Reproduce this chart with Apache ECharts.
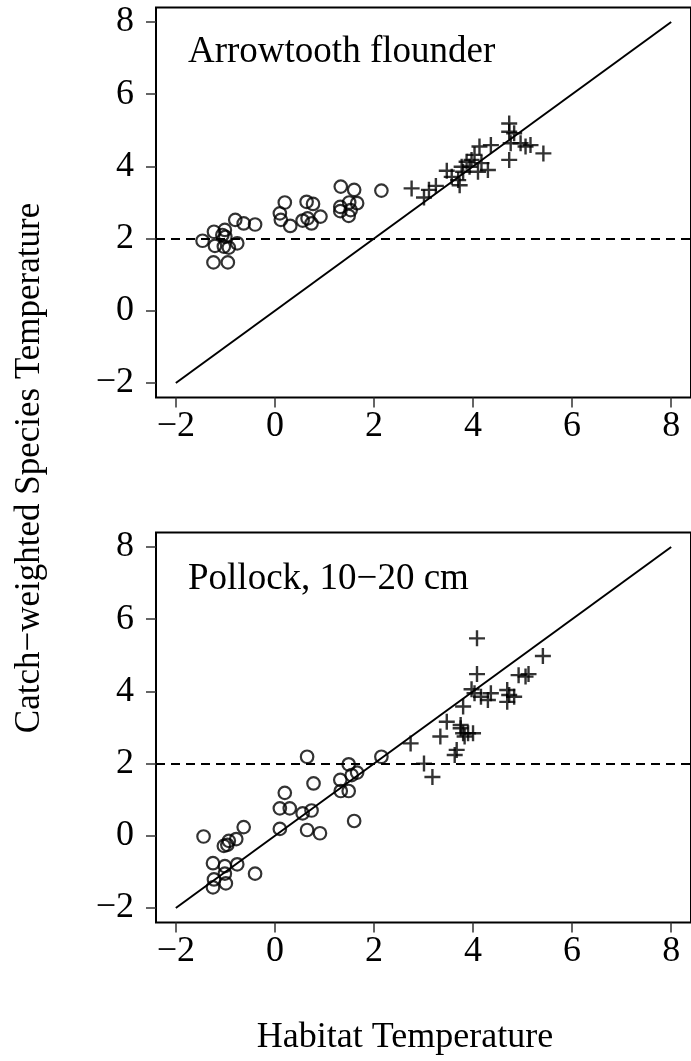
<!DOCTYPE html>
<html><head><meta charset="utf-8">
<script src="https://cdn.jsdelivr.net/npm/echarts@6/dist/echarts.min.js"></script>
<style>html,body{margin:0;padding:0;background:#fff;overflow:hidden}#c{width:691px;height:1061px}</style>
</head><body><div id="c"></div>
<script>
const xTicks = [-2, 0, 2, 4, 6, 8];
const yTicks = [-2, 0, 2, 4, 6, 8];
const panelTitles = ['Arrowtooth flounder', 'Pollock, 10\u221220 cm'];
const xTitle = 'Habitat Temperature';
const yTitle = 'Catch\u2212weighted Species Temperature';
const refLine = [[-2, -2], [8, 8]];
const hLineY = 2;

const arrowCircles = [[-1.46,1.94],[-1.23,2.19],[-1.21,1.80],[-1.24,1.34],[-0.95,1.34],[-1.01,2.24],[-1.00,2.05],[-1.03,1.78],[-0.93,1.75],[-0.76,1.87],[-0.80,2.52],[-0.63,2.42],[-0.40,2.39],[-1.06,2.10],
[0.20,3.00],[0.10,2.70],[0.12,2.52],[0.31,2.35],[0.64,3.02],[0.77,2.96],[0.92,2.61],[0.74,2.42],[0.56,2.50],[0.66,2.56],
[1.33,3.44],[1.60,3.35],[1.66,2.98],[1.32,2.88],[1.32,2.76],[1.50,3.00],[1.49,2.63],[1.53,2.79],[2.15,3.33]];
const arrowCrosses = [[2.76,3.39],[3.01,3.14],[3.11,3.35],[3.25,3.46],[3.47,3.88],[3.57,3.71],[3.70,3.62],[3.73,3.48],[3.77,3.99],[3.87,4.13],[3.97,4.18],[4.03,4.32],[4.13,4.55],[4.30,3.90],[4.36,4.59],[4.10,3.85],[4.73,5.19],[4.73,4.96],[4.83,4.92],[4.76,4.64],[4.73,4.18],[4.96,4.64],[5.06,4.55],[5.16,4.59],[5.42,4.36],[3.93,3.99],[3.80,3.85],[4.17,4.09]];
const pollockCircles = [[-1.44,-0.02],[-0.63,0.24],[-0.78,-0.09],[-0.93,-0.14],[-1.03,-0.28],[-0.96,-0.25],[-1.25,-0.76],[-1.01,-0.84],[-0.76,-0.79],[-1.23,-1.21],[-1.25,-1.43],[-0.99,-1.32],[-1.01,-1.05],[-0.40,-1.05],[0.20,1.19],[0.10,0.76],[0.30,0.76],[0.10,0.19],[0.65,2.19],[0.78,1.45],[0.56,0.62],[0.74,0.70],[0.65,0.16],[0.91,0.07],[1.49,1.98],[1.32,1.55],[1.55,1.68],[1.66,1.75],[1.33,1.24],[1.49,1.24],[1.60,0.41],[2.15,2.19]];
const pollockCrosses = [[4.08,5.47],[4.08,4.48],[5.41,4.98],[3.97,4.06],[4.03,3.95],[4.36,3.95],[4.16,3.85],[4.30,3.76],[4.69,4.04],[4.73,3.90],[4.69,3.71],[4.83,3.85],[4.92,4.45],[5.06,4.41],[5.12,4.48],[3.80,3.58],[3.47,3.16],[3.34,2.75],[2.74,2.56],[3.01,2.00],[3.18,1.63],[3.63,2.24],[3.67,2.38],[3.75,2.98],[3.80,2.84],[3.90,2.84],[4.00,2.84],[3.83,2.75],[3.75,3.07]];

const FONT = '"Liberation Serif", "DejaVu Serif", serif';
const fmt = v => (v < 0 ? '\u2212' + Math.abs(v) : String(v));
const grids = [
  { left: 156, top: 7.6, width: 544.3, height: 389.8 },
  { left: 156, top: 532.6, width: 544.3, height: 389.8 }
];
const CROSS = 'path://M5,0L5,10M0,5L10,5';

const option = {
  animation: false,
  backgroundColor: '#fff',
  grid: grids.map(g => Object.assign({ show: true, borderColor: '#000', borderWidth: 2, backgroundColor: 'transparent' }, g)),
  xAxis: grids.map((g, i) => ({
    type: 'value', gridIndex: i, min: -2.4, max: 8.4, position: 'bottom',
    axisLine: { show: false, onZero: false },
    splitLine: { show: false },
    axisTick: { show: true, length: 10, customValues: xTicks, lineStyle: { color: '#333', width: 1.5 } },
    axisLabel: { customValues: xTicks, formatter: fmt, margin: 11, color: '#000', fontSize: 36, fontFamily: FONT }
  })),
  yAxis: grids.map((g, i) => ({
    type: 'value', gridIndex: i, min: -2.4, max: 8.4, position: 'left',
    axisLine: { show: false, onZero: false },
    splitLine: { show: false },
    axisTick: { show: true, length: 10, customValues: yTicks, lineStyle: { color: '#333', width: 1.5 } },
    axisLabel: { customValues: yTicks, formatter: fmt, margin: 22, color: '#000', fontSize: 36, fontFamily: FONT }
  })),
  series: [],
  graphic: []
};

const panels = [[arrowCircles, arrowCrosses], [pollockCircles, pollockCrosses]];
panels.forEach((p, i) => {
  option.series.push({
    type: 'line', xAxisIndex: i, yAxisIndex: i, data: refLine, symbol: 'none',
    lineStyle: { color: '#000', width: 2 }, silent: true,
    markLine: { symbol: 'none', silent: true, label: { show: false },
      lineStyle: { color: '#000', width: 2, type: [9, 6] }, data: [{ yAxis: hLineY }] }
  });
  option.series.push({
    type: 'scatter', xAxisIndex: i, yAxisIndex: i, data: p[0], symbol: 'circle', symbolSize: 12.5,
    itemStyle: { color: 'transparent', borderColor: '#000', borderWidth: 2.2 }
  });
  option.series.push({
    type: 'scatter', xAxisIndex: i, yAxisIndex: i, data: p[1], symbol: CROSS, symbolSize: 16,
    itemStyle: { color: 'transparent', borderColor: '#000', borderWidth: 2.4 }
  });
});

option.graphic.push(
  { type: 'text', left: 188, top: 34, style: { text: panelTitles[0], font: '37px ' + FONT, fill: '#000' } },
  { type: 'text', left: 188, top: 561, style: { text: panelTitles[1], font: '37px ' + FONT, fill: '#000' } },
  { type: 'text', x: 405, y: 1038, style: { text: xTitle, font: '36px ' + FONT, fill: '#000', align: 'center', verticalAlign: 'middle' } },
  { type: 'text', x: 30, y: 468, rotation: Math.PI / 2, style: { text: yTitle, font: '35px ' + FONT, fill: '#000', align: 'center', verticalAlign: 'middle' } }
);

const chart = echarts.init(document.getElementById('c'), null, { renderer: 'canvas' });
chart.setOption(option);
</script>
</body></html>
